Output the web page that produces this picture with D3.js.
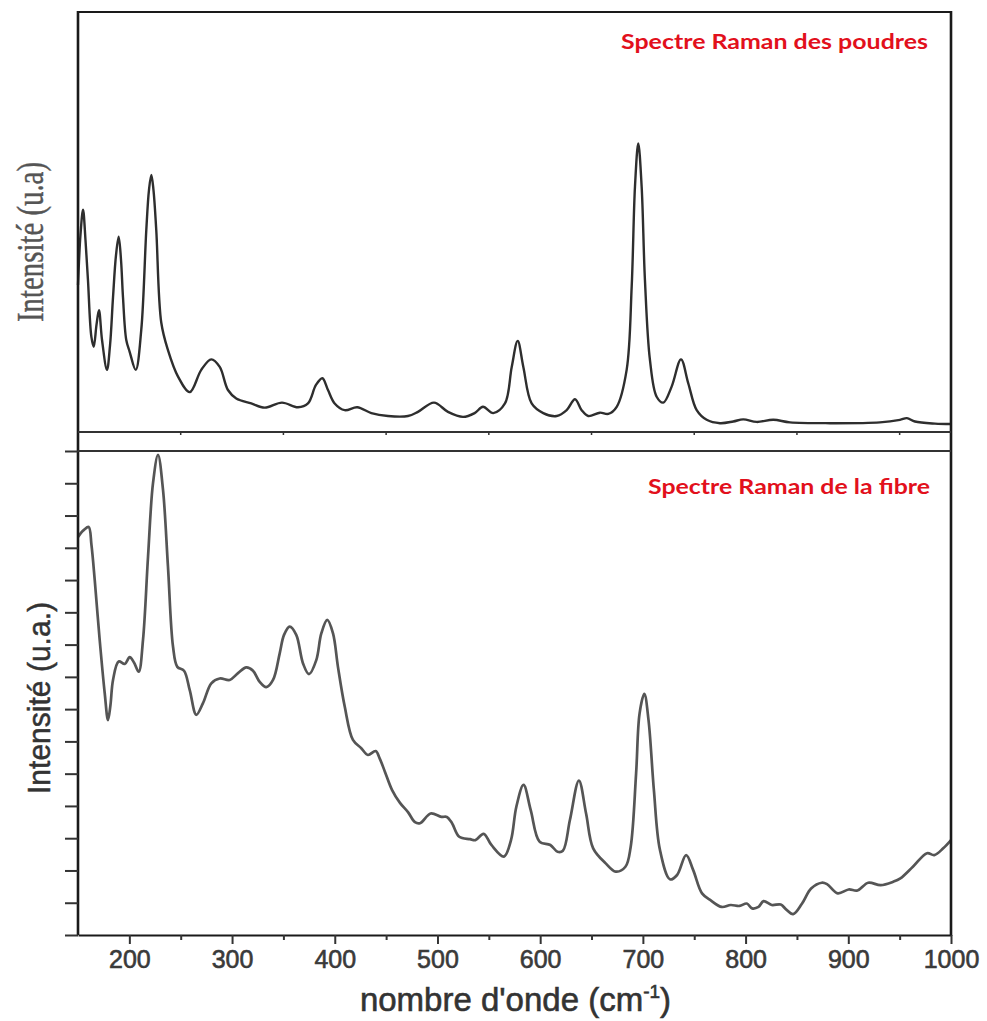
<!DOCTYPE html>
<html>
<head>
<meta charset="utf-8">
<script src="https://cdn.jsdelivr.net/npm/d3@7"></script>
<style>
  html, body { margin: 0; padding: 0; background: #fff; }
  svg { display: block; }
</style>
</head>
<body>
<svg id="chart" width="987" height="1021"></svg>
<script>
// ---- Data (wavenumber cm-1, relative intensity) ----
const powderWavenumber = [150,152.4,154.9,157.3,159.7,163,165.3,168,170.4,173.4,178.2,181.2,184.1,187,189.6,191.9,193.8,197,200.3,206.2,211.6,216.5,219.1,221.4,223.5,226.2,231.1,237.6,247.4,258.8,270,279.8,288,296,304.1,318.7,331.8,348.6,364.2,373.9,381.7,387.9,393.4,399.9,409.7,421.9,435.6,451.8,471.3,481,496.6,510.2,524.8,536.2,544.3,554.3,565.7,572.3,578.1,583.6,591.7,603,616.1,625.8,633.9,640.4,646.8,658.2,666.3,674.5,684.2,689.1,692.3,695.5,698.8,702,706.9,713.4,719.9,728,737.1,744.2,752.4,762.1,775.1,788,797.7,810.8,827,843.2,882.2,930.8,950.3,957.1,964.9,984.4,1000];
const powderIntensity = [35.0,46.9,52.9,45.7,36.2,22.7,20.3,25.5,29.0,21.9,14.8,20.7,32.1,42.1,46.5,40.9,32.1,21.9,19.1,14.8,24.3,48.1,57.6,61.2,57.6,48.1,26.0,19.5,13.2,9.5,14.8,17.3,15.5,10.0,8.0,6.8,5.8,7.0,5.9,6.8,11.2,12.8,10.0,6.8,5.2,5.9,4.5,3.8,3.8,4.8,7.0,4.8,3.6,4.5,6.0,4.5,6.8,15.5,21.7,15.5,6.8,4.5,3.8,5.2,7.8,5.2,3.8,4.6,4.3,6.0,14.8,34.6,58.4,68.7,58.4,36.2,17.1,8.4,7.0,10.8,17.3,11.6,5.2,2.9,2.1,2.5,3.0,2.4,2.9,2.3,2.1,2.3,2.9,3.3,2.5,2.0,1.9];

const fibreWavenumber = [150,152.9,155.8,160.4,163.1,166.3,171.1,176,179.2,181.6,184.1,189.6,195.5,200.3,204.5,209.1,213.3,218.2,223,227.9,232.8,237.6,242.5,246.7,253.2,258.8,265.2,271.7,279.8,288,297.7,305.8,313.9,320.4,326.9,333.3,339.9,346.4,350.6,356.1,362.5,369.1,374.9,382,386.9,392.7,398.3,403.1,409.7,417.7,425.8,432.3,439.8,443.7,448.9,455.7,463.5,471.3,478.1,483,493.4,503.8,509.1,514.2,521.2,531.7,536.9,544.9,552.5,564.7,571.6,576.8,583.8,590.8,599.4,609.9,616.9,622.1,629,637.7,644.7,651.6,663.8,673.5,683,688.1,693.4,696.8,701.4,705.5,710.7,716.6,726.4,733.3,742.1,749,757.6,766.4,776.8,785.5,794.1,801.2,806.3,812.6,817.5,825.5,834.2,839.4,846.3,855,863.8,874.2,879.3,889.8,900.3,908.9,919.4,931.5,943.7,950.7,962.9,976.7,983.7,992.4,1000];
const fibreIntensity = [82.2,83.1,83.7,84.3,80.6,73.3,61.0,50.0,44.4,47.5,52.7,56.5,56.0,57.4,56.3,54.4,61.0,78.2,93.3,99.2,91.9,76.1,59.6,55.4,54.6,50.6,45.5,47.9,52.0,53.0,52.7,54.1,55.3,54.6,52.3,51.2,52.7,58.2,62.0,63.7,62.0,56.1,53.9,56.8,62.3,65.1,62.3,55.4,47.2,40.3,38.6,37.2,38.0,36.5,33.7,30.0,27.3,25.4,23.3,23.1,25.1,24.4,24.4,23.1,20.3,19.8,19.6,20.9,18.6,16.2,19.6,26.5,31.0,25.8,19.3,18.6,17.2,17.4,23.8,31.9,25.1,17.9,14.8,13.1,14.1,18.2,33.4,45.8,49.8,44.4,30.0,17.6,11.5,12.4,16.5,13.4,8.6,7.1,5.8,6.2,6.0,6.5,5.5,5.8,7.0,6.2,6.3,5.3,4.3,6.5,9.6,10.8,10.5,8.6,9.4,9.2,10.8,10.3,11.0,11.7,14.1,16.9,16.5,17.9,19.6];

const xTickLabels = [200,300,400,500,600,700,800,900,1000];
const xMinorTicks = [250,350,450,550,650,750,850,950];
const topMinorTicks = [250,350,450,550,650,750,850,950];
const yTickCount = 15;

const titleTop = "Spectre Raman des poudres";
const titleBottom = "Spectre Raman de la fibre";
const yLabelTop = "Intensité (u.a)";
const yLabelBottom = "Intensité (u.a.)";

// ---- Layout ----
const L = 78, R = 951, T = 12, topBottom = 432, botTop = 451, B = 935;
const svg = d3.select("#chart");

const x = d3.scaleLinear().domain([150, 1000]).range([L, R]);
const yTop = d3.scaleLinear().domain([0, 100]).range([topBottom, T]);
const yBot = d3.scaleLinear().domain([0, 100]).range([B, botTop]);

const frameColor = "#1a1a1a";

// Curves
const lineTop = d3.line()
  .x((d, i) => x(powderWavenumber[i]))
  .y(d => yTop(d))
  .curve(d3.curveCatmullRom.alpha(0.5));
const lineBot = d3.line()
  .x((d, i) => x(fibreWavenumber[i]))
  .y(d => yBot(d))
  .curve(d3.curveCatmullRom.alpha(0.5));

svg.append("path")
  .attr("d", lineTop(powderIntensity))
  .attr("fill", "none")
  .attr("stroke", "#2e2e2e")
  .attr("stroke-width", 2.4)
  .attr("stroke-linejoin", "round");

svg.append("path")
  .attr("d", lineBot(fibreIntensity))
  .attr("fill", "none")
  .attr("stroke", "#555")
  .attr("stroke-width", 2.7)
  .attr("stroke-linejoin", "round");

// Frame lines
const frame = svg.append("g").attr("stroke", frameColor).attr("fill", "none");
frame.append("line").attr("x1", L).attr("x2", R).attr("y1", T).attr("y2", T).attr("stroke-width", 2.2);
frame.append("line").attr("x1", L).attr("x2", L).attr("y1", T - 1).attr("y2", B).attr("stroke-width", 2.6);
frame.append("line").attr("x1", R).attr("x2", R).attr("y1", T - 1).attr("y2", B + 1).attr("stroke-width", 2.6);
frame.append("line").attr("x1", L).attr("x2", R).attr("y1", topBottom).attr("y2", topBottom).attr("stroke-width", 2).attr("stroke", "#333");
frame.append("line").attr("x1", L).attr("x2", R).attr("y1", botTop).attr("y2", botTop).attr("stroke-width", 2).attr("stroke", "#333");

// small ticks under top panel
svg.append("g").selectAll("line").data(topMinorTicks).join("line")
  .attr("x1", d => x(d)).attr("x2", d => x(d))
  .attr("y1", topBottom).attr("y2", topBottom + 3)
  .attr("stroke", "#333").attr("stroke-width", 1.5);

// Bottom x axis
const xAxis = d3.axisBottom(x).tickValues(xTickLabels).tickSize(9).tickSizeOuter(0).tickPadding(6).tickFormat(d3.format("d"));
const gx = svg.append("g").attr("transform", `translate(0,${B})`).call(xAxis);
gx.select(".domain").attr("stroke", frameColor).attr("stroke-width", 2.2);
gx.selectAll(".tick line").attr("stroke", "#333").attr("stroke-width", 2);
gx.selectAll(".tick text")
  .attr("font-family", "Liberation Sans, Arial, sans-serif")
  .attr("font-size", 25)
  .attr("fill", "#3a3a3a")
  .attr("stroke", "#3a3a3a")
  .attr("stroke-width", 0.6);

const xMinor = d3.axisBottom(x).tickValues(xMinorTicks).tickSize(5).tickSizeOuter(0).tickFormat("");
const gxm = svg.append("g").attr("transform", `translate(0,${B})`).call(xMinor);
gxm.select(".domain").remove();
gxm.selectAll(".tick line").attr("stroke", "#333").attr("stroke-width", 2);

// Bottom y axis ticks
const yTicks = d3.range(0, yTickCount + 1).map(i => i * 100 / yTickCount);
const yAxis = d3.axisLeft(yBot).tickValues(yTicks).tickSize(13).tickSizeOuter(0).tickFormat("");
const gy = svg.append("g").attr("transform", `translate(${L},0)`).call(yAxis);
gy.select(".domain").remove();
gy.selectAll(".tick line").attr("stroke", "#333").attr("stroke-width", 2);

// Axis titles
svg.append("text")
  .attr("x", (L + R) / 2 + 1).attr("y", 1011)
  .attr("text-anchor", "middle")
  .attr("font-family", "Liberation Sans, Arial, sans-serif")
  .attr("font-size", 33)
  .attr("fill", "#333")
  .attr("stroke", "#333")
  .attr("stroke-width", 0.6)
  .html('nombre d\'onde (cm<tspan dy="-13" font-size="19">-1</tspan><tspan dy="13">)</tspan>');

svg.append("text")
  .attr("transform", "translate(43,242) rotate(-90)")
  .attr("text-anchor", "middle")
  .attr("font-family", "Liberation Serif, Times New Roman, serif")
  .attr("font-size", 37)
  .attr("fill", "#555")
  .attr("stroke", "#555")
  .attr("stroke-width", 0.4)
  .attr("textLength", 160)
  .attr("lengthAdjust", "spacingAndGlyphs")
  .text(yLabelTop);

svg.append("text")
  .attr("transform", "translate(50,698) rotate(-90)")
  .attr("text-anchor", "middle")
  .attr("font-family", "Liberation Sans, Arial, sans-serif")
  .attr("font-size", 31)
  .attr("fill", "#333")
  .attr("stroke", "#333")
  .attr("stroke-width", 0.5)
  .attr("textLength", 192)
  .attr("lengthAdjust", "spacingAndGlyphs")
  .text(yLabelBottom);

// Panel titles (red)
svg.append("text")
  .attr("x", 621).attr("y", 49)
  .attr("font-family", "Lato, Open Sans, sans-serif")
  .attr("font-weight", "bold")
  .attr("font-size", 20)
  .attr("fill", "#e2101c")
  .attr("textLength", 307)
  .attr("lengthAdjust", "spacingAndGlyphs")
  .text(titleTop);

svg.append("text")
  .attr("x", 648).attr("y", 494)
  .attr("font-family", "Lato, Open Sans, sans-serif")
  .attr("font-weight", "bold")
  .attr("font-size", 20)
  .attr("fill", "#e2101c")
  .attr("textLength", 282)
  .attr("lengthAdjust", "spacingAndGlyphs")
  .text(titleBottom);
</script>
</body>
</html>
